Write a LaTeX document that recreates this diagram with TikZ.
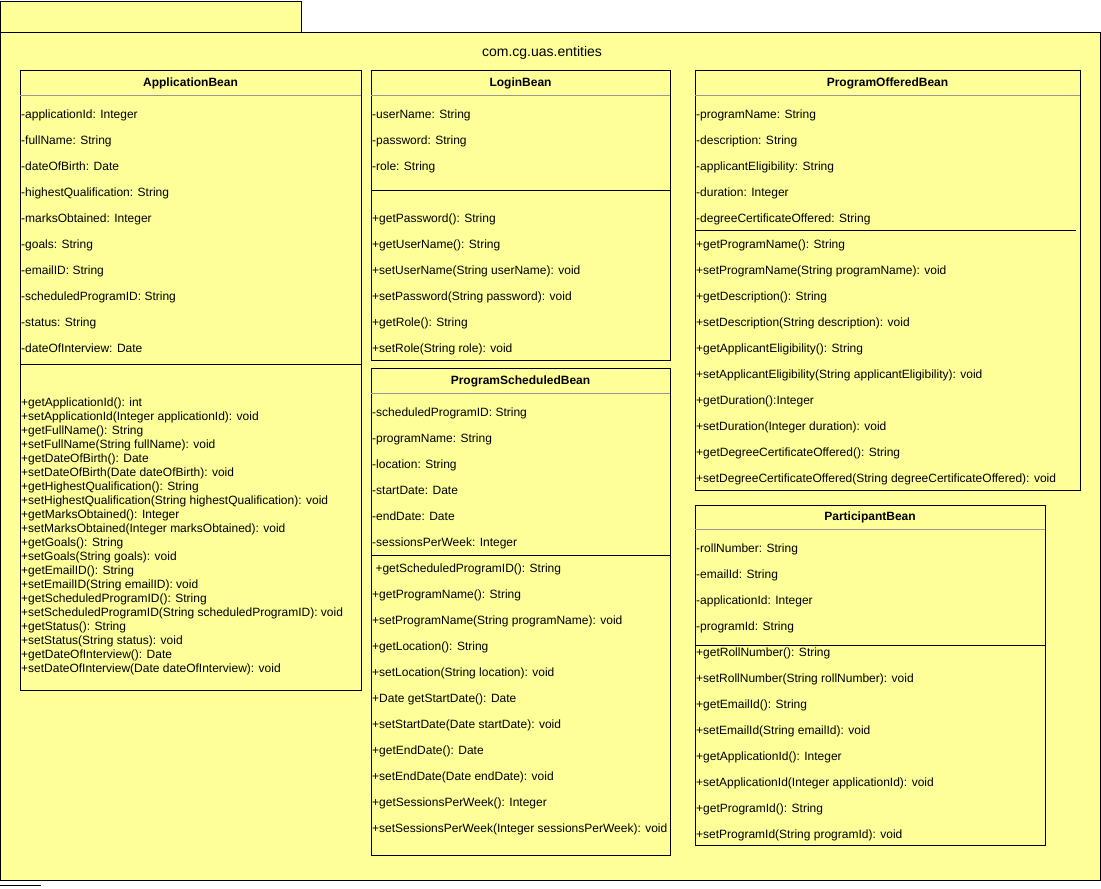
\documentclass[tikz,border=0pt]{standalone}
\usepackage{fontspec}
\setmainfont{Liberation Sans}
\definecolor{umlfill}{HTML}{FFFF99}
\definecolor{sepgray}{HTML}{999999}
\tikzset{
  x=1pt, y=-1pt,
  pkg/.style={draw=black, fill=umlfill, line width=1pt},
  classbox/.style={draw=black, fill=umlfill, line width=1pt, anchor=north west, inner sep=0pt},
  member/.style={anchor=west, inner xsep=1pt, inner ysep=0pt, text height=8.6pt, text depth=0pt, font=\fontsize{12}{14}\selectfont},
  classname/.style={anchor=center, inner sep=0pt, text height=8.6pt, text depth=0pt, font=\fontsize{12}{14}\selectfont\bfseries},
  headsep/.style={draw=sepgray, line width=1pt},
  compsep/.style={draw=black, line width=1pt},
}
\begin{document}
\begin{tikzpicture}
\useasboundingbox (0,0) rectangle (1101,889);
% package
\node[pkg, anchor=north west, minimum width=301pt, minimum height=32pt, inner sep=0pt] (tab) at (0,1) {};
\node[pkg, anchor=north west, minimum width=1100pt, minimum height=848pt, inner sep=0pt] (pkgbody) at (0,32) {};
\node[anchor=center, font=\fontsize{14}{16}\selectfont, text height=10pt, text depth=0pt, inner sep=0pt] (pkgname) at (542,51) {com.cg.uas.entities};
\coordinate (stubA) at (0,885);
\coordinate (stubB) at (41,885);
\draw[line width=1pt] (stubA) -- (stubB);

% ---------------- ApplicationBean
\node[classbox, minimum width=341pt, minimum height=620pt] (app) at (20,70) {};
\node[classname] (appname) at (190.5,82) {ApplicationBean};
\draw[headsep] (20,95) -- (361,95);
\foreach \t [count=\i from 0] in {-applicationId: Integer,-fullName: String,-dateOfBirth: Date,-highestQualification: String,-marksObtained: Integer,-goals: String,-emailID: String,-scheduledProgramID: String,-status: String,-dateOfInterview: Date}
  \node[member] (appa\i) at (20,114+26*\i) {\t};
\draw[compsep] (20,364) -- (361,364);
\foreach \t [count=\i from 0] in {+getApplicationId(): int,+setApplicationId(Integer applicationId): void,+getFullName(): String,+setFullName(String fullName): void,+getDateOfBirth(): Date,+setDateOfBirth(Date dateOfBirth): void,+getHighestQualification(): String,+setHighestQualification(String highestQualification): void,+getMarksObtained(): Integer,+setMarksObtained(Integer marksObtained): void,+getGoals(): String,+setGoals(String goals): void,+getEmailID(): String,+setEmailID(String emailID): void,+getScheduledProgramID(): String,+setScheduledProgramID(String scheduledProgramID): void,+getStatus(): String,+setStatus(String status): void,+getDateOfInterview(): Date,+setDateOfInterview(Date dateOfInterview): void}
  \node[member] (appm\i) at (20,402+14*\i) {\t};

% ---------------- LoginBean
\node[classbox, minimum width=299pt, minimum height=290pt] (login) at (371,70) {};
\node[classname] (loginname) at (520.5,82) {LoginBean};
\draw[headsep] (371,95) -- (670,95);
\foreach \t [count=\i from 0] in {-userName: String,-password: String,-role: String}
  \node[member] (logina\i) at (371,114+26*\i) {\t};
\draw[compsep] (371,190) -- (670,190);
\foreach \t [count=\i from 0] in {+getPassword(): String,+getUserName(): String,+setUserName(String userName): void,+setPassword(String password): void,+getRole(): String,+setRole(String role): void}
  \node[member] (loginm\i) at (371,218+26*\i) {\t};

% ---------------- ProgramScheduledBean
\node[classbox, minimum width=299pt, minimum height=487pt] (sched) at (371,368) {};
\node[classname] (schedname) at (520.5,380) {ProgramScheduledBean};
\draw[headsep] (371,393) -- (670,393);
\foreach \t [count=\i from 0] in {-scheduledProgramID: String,-programName: String,-location: String,-startDate: Date,-endDate: Date,-sessionsPerWeek: Integer}
  \node[member] (scheda\i) at (371,412+26*\i) {\t};
\draw[compsep] (371,555) -- (670,555);
\node[member] (schedm0) at (371,568) {\ +getScheduledProgramID(): String};
\foreach \t [count=\i from 1] in {+getProgramName(): String,+setProgramName(String programName): void,+getLocation(): String,+setLocation(String location): void,+Date getStartDate(): Date,+setStartDate(Date startDate): void,+getEndDate(): Date,+setEndDate(Date endDate): void,+getSessionsPerWeek(): Integer,+setSessionsPerWeek(Integer sessionsPerWeek): void}
  \node[member] (schedm\i) at (371,568+26*\i) {\t};

% ---------------- ProgramOfferedBean
\node[classbox, minimum width=385pt, minimum height=420pt] (offer) at (695,70) {};
\node[classname] (offername) at (887.5,82) {ProgramOfferedBean};
\draw[headsep] (695,95) -- (1080,95);
\foreach \t [count=\i from 0] in {-programName: String,-description: String,-applicantEligibility: String,-duration: Integer,-degreeCertificateOffered: String}
  \node[member] (offera\i) at (695,114+26*\i) {\t};
\draw[compsep] (695,230) -- (1076,230);
\foreach \t [count=\i from 0] in {+getProgramName(): String,+setProgramName(String programName): void,+getDescription(): String,+setDescription(String description): void,+getApplicantEligibility(): String,+setApplicantEligibility(String applicantEligibility): void,+getDuration():Integer,+setDuration(Integer duration): void,+getDegreeCertificateOffered(): String,+setDegreeCertificateOffered(String degreeCertificateOffered): void}
  \node[member] (offerm\i) at (695,244+26*\i) {\t};

% ---------------- ParticipantBean
\node[classbox, minimum width=350pt, minimum height=340pt] (part) at (695,505) {};
\node[classname] (partname) at (870,516) {ParticipantBean};
\draw[headsep] (695,529) -- (1045,529);
\foreach \t [count=\i from 0] in {-rollNumber: String,-emailId: String,-applicationId: Integer,-programId: String}
  \node[member] (parta\i) at (695,548+26*\i) {\t};
\draw[compsep] (695,645) -- (1045,645);
\foreach \t [count=\i from 0] in {+getRollNumber(): String,+setRollNumber(String rollNumber): void,+getEmailId(): String,+setEmailId(String emailId): void,+getApplicationId(): Integer,+setApplicationId(Integer applicationId): void,+getProgramId(): String,+setProgramId(String programId): void}
  \node[member] (partm\i) at (695,652+26*\i) {\t};
\end{tikzpicture}
\end{document}
